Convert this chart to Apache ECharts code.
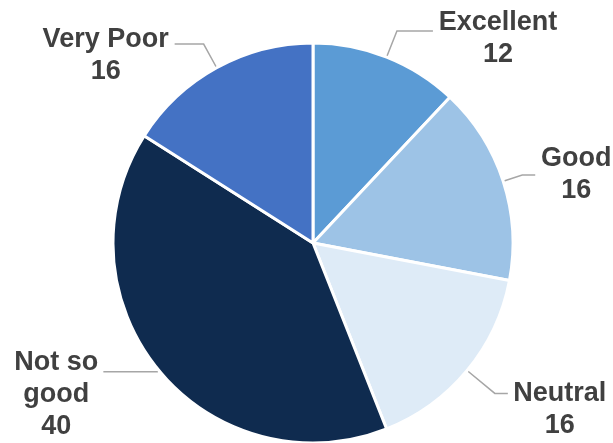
<!DOCTYPE html>
<html>
<head>
<meta charset="utf-8">
<script src="https://cdn.jsdelivr.net/npm/echarts@6/dist/echarts.min.js"></script>
<style>
  html, body { margin: 0; padding: 0; background: #fff; }
  #chart { width: 613px; height: 443px; }
</style>
</head>
<body>
<div id="chart"></div>
<script>
// ratings breakdown
const categories = ['Excellent', 'Good', 'Neutral', 'Not so good', 'Very Poor']
const counts = [12, 16, 16, 40, 16]
const colors = ['#5B9BD5', '#9DC3E6', '#DEEBF7', '#0F2B4F', '#4472C4']

// label placement per slice: radial line, horizontal line, text block width, vertical nudge
const lineLen = [28, 20, 36, 2, 27]
const lineLen2 = [36, 13, 13, 54, 29]
const textWidth = [120, 72, 94, 84, 128]
const labelPad = [[16, 0, 0, 0], [0, 0, 0, 0], [32, 0, 0, 0], [46, 0, 0, 0], [22, 0, 0, 0]]

const chart = echarts.init(document.getElementById('chart'))

const seriesData = categories.map((name, i) => ({
  name: name,
  value: counts[i],
  itemStyle: { color: colors[i] },
  label: {
    padding: labelPad[i],
    rich: { t: { width: textWidth[i], align: 'center' } }
  },
  labelLine: { length: lineLen[i], length2: lineLen2[i] }
}))

chart.setOption({
  animation: false,
  series: [
    {
      type: 'pie',
      center: [313, 243],
      radius: 200,
      startAngle: 90,
      clockwise: true,
      avoidLabelOverlap: false,
      itemStyle: {
        borderColor: '#fff',
        borderWidth: 3
      },
      label: {
        show: true,
        position: 'outside',
        color: '#404040',
        fontFamily: 'Liberation Sans, Arial, sans-serif',
        fontWeight: 'bold',
        fontSize: 27,
        lineHeight: 32,
        distanceToLabelLine: 5,
        formatter: (p) => {
          // "Not so good" wraps after "so", as in the original
          const lines = p.name === 'Not so good' ? ['Not so', 'good'] : [p.name]
          lines.push(String(p.value))
          return lines.map((s) => '{t|' + s + '}').join('\n')
        },
        rich: {
          t: {
            color: '#404040',
            fontFamily: 'Liberation Sans, Arial, sans-serif',
            fontWeight: 'bold',
            fontSize: 27,
            lineHeight: 32
          }
        }
      },
      labelLine: {
        show: true,
        smooth: false,
        lineStyle: { color: '#A6A6A6', width: 1.5 }
      },
      emphasis: { disabled: true },
      data: seriesData
    }
  ]
})
</script>
</body>
</html>
